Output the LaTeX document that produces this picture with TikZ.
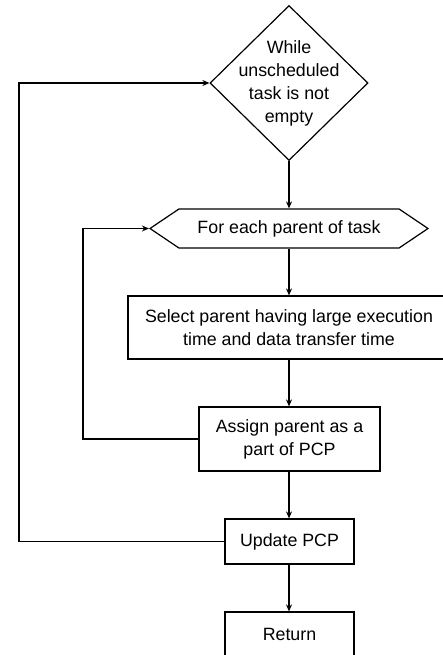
\documentclass[tikz,border=0pt]{standalone}
\usepackage{fontspec}
\setmainfont{Liberation Sans}
\usepackage{tikz}
\usetikzlibrary{shapes.geometric, shapes.symbols, arrows.meta}

\begin{document}
\begin{tikzpicture}[x=1pt, y=-1pt,
    every node/.style={font=\fontsize{17.8}{23}\selectfont, line width=1.2pt},
    box/.style={draw, rectangle, align=center, inner sep=0pt},
    arr/.style={line width=1.2pt, -{Stealth[length=7pt, width=6pt]}}]
    \useasboundingbox (0, 0) rectangle (443, 655);

    % Loop condition
    \node[draw, diamond, aspect=1.02, inner sep=-8pt, minimum width=158pt, minimum height=155pt, align=center] (while) at (289, 83) {While\\unscheduled\\task is not\\empty};

    % Inner loop over parents
    \node[draw, signal, signal to=west and east, signal pointer angle=68, minimum width=278pt, minimum height=39pt, inner sep=0pt] (parents) at (289, 228.5) {For each parent of task};

    % Steps
    \node[box, minimum width=322pt, minimum height=63pt] (select) at (289, 327.5) {Select parent having large execution\\time and data transfer time};
    \node[box, minimum width=181pt, minimum height=64pt] (assign) at (289.5, 439) {Assign parent as a\\part of PCP};
    \node[box, minimum width=129pt, minimum height=45pt] (update) at (289.5, 541.5) {Update PCP};
    \node[box, minimum width=129pt, minimum height=45pt] (return) at (289.5, 634.5) {Return};

    % Straight arrows
    \draw[arr] (while.south) -- (parents.north -| while.south);
    \draw[arr] (parents.south -| while.south) -- (select.north -| while.south);
    \draw[arr] (select.south -| while.south) -- (assign.north -| while.south);
    \draw[arr] (assign.south -| while.south) -- (update.north -| while.south);
    \draw[arr] (update.south -| while.south) -- (return.north -| while.south);

    % Back edges
    \draw[arr] (assign.west) -- (83, 439) |- (parents.west);
    \draw[arr] (update.west) -- (19, 541.5) |- (while.west);
\end{tikzpicture}
\end{document}
